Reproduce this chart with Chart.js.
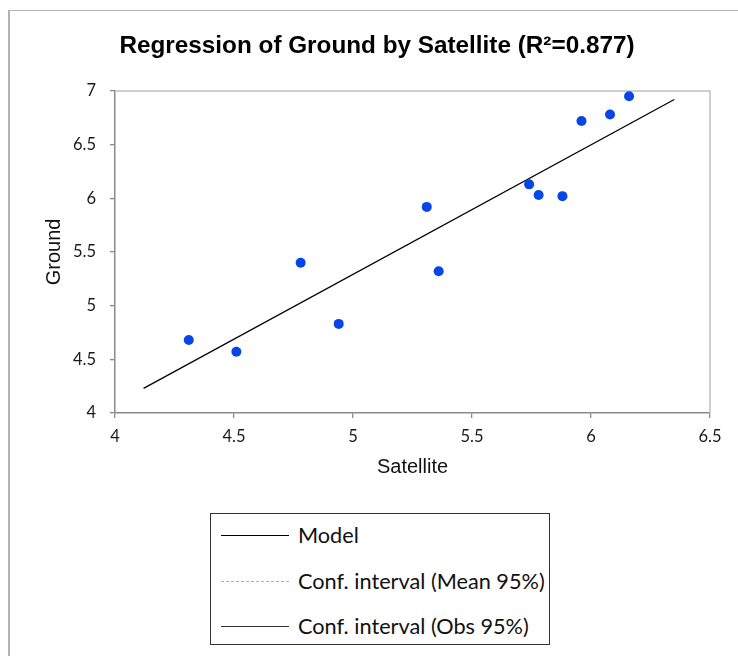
<!DOCTYPE html>
<html>
<head>
<meta charset="utf-8">
<script src="https://cdn.jsdelivr.net/npm/chart.js@4.4.1/dist/chart.umd.min.js"></script>
<style>
  body { margin: 0; background: #fff; }
  #wrap { position: relative; width: 738px; height: 656px; overflow: hidden; }
  #frame { position: absolute; left: 8px; top: 10px; width: 760px; height: 700px;
    border-left: 2px solid #b4b4b4; border-top: 1px solid #b4b4b4; }
  #chart { position: absolute; left: 0; top: 0; }
  #legend { position: absolute; left: 210px; top: 513px; width: 338px; height: 130px;
    border: 1px solid #333; background: #fff; font-family: Lato, sans-serif; font-size: 21.7px; color: #111; }
  #legend .row { position: absolute; left: 0; width: 100%; height: 0; }
  #legend .sample { position: absolute; left: 10px; width: 68px; top: 0; }
  #legend .txt { position: absolute; left: 87px; top: -13px; white-space: nowrap; line-height: 26px; }
</style>
</head>
<body>
<div id="wrap">
  <div id="frame"></div>
  <canvas id="chart" width="738" height="656"></canvas>
  <div id="legend"></div>
</div>
<script>
// observations
const satellite = [4.31, 4.51, 4.78, 4.94, 5.31, 5.36, 5.74, 5.78, 5.88, 5.96, 6.08, 6.16];
const ground = [4.68, 4.57, 5.40, 4.83, 5.92, 5.32, 6.13, 6.03, 6.02, 6.72, 6.78, 6.95];

// fitted model line (ends)
const modelX = [4.12, 6.35];
const modelY = [4.23, 6.92];

const xTicks = [4, 4.5, 5, 5.5, 6, 6.5];
const yTicks = [4, 4.5, 5, 5.5, 6, 6.5, 7];

const legendLabels = ["Model", "Conf. interval (Mean 95%)", "Conf. interval (Obs 95%)"];

const axisGray = "#8a8a8a";
const tickFont = { family: "Lato", size: 16.5 };
const titleFont = { family: "Liberation Sans", size: 20 };

const plotFrame = {
  id: "plotFrame",
  beforeDatasetsDraw(chart) {
    const { ctx, chartArea: a } = chart;
    ctx.save();
    ctx.strokeStyle = "#c0c0c0";
    ctx.lineWidth = 1.5;
    ctx.beginPath();
    ctx.moveTo(a.left, a.top);
    ctx.lineTo(a.right, a.top);
    ctx.lineTo(a.right, a.bottom);
    ctx.stroke();
    ctx.restore();
  },
};

const ctx = document.getElementById("chart").getContext("2d");
const chart = new Chart(ctx, {
  type: "scatter",
  data: {
    datasets: [
      {
        label: "Observations",
        data: satellite.map((x, i) => ({ x: x, y: ground[i] })),
        backgroundColor: "#0646e6",
        borderWidth: 0,
        pointRadius: 5,
        order: 0,
      },
      {
        label: legendLabels[0],
        data: modelX.map((x, i) => ({ x: x, y: modelY[i] })),
        showLine: true,
        borderColor: "#000",
        borderWidth: 1.3,
        pointRadius: 0,
        order: 1,
        inLegend: true,
      },
      {
        label: legendLabels[1],
        data: [],
        showLine: true,
        borderColor: "#b0b0b0",
        borderWidth: 1,
        borderDash: [2, 2],
        pointRadius: 0,
        inLegend: true,
      },
      {
        label: legendLabels[2],
        data: [],
        showLine: true,
        borderColor: "#333",
        borderWidth: 1,
        pointRadius: 0,
        inLegend: true,
      },
    ],
  },
  options: {
    responsive: false,
    animation: false,
    layout: { padding: { left: 44, right: 28, top: 0, bottom: 177 } },
    plugins: {
      legend: { display: false },
      tooltip: { enabled: false },
      title: {
        display: true,
        text: "Regression of Ground by Satellite (R²=0.877)",
        font: { family: "Liberation Sans", size: 24.3, weight: "bold" },
        color: "#000",
        padding: { top: 32, bottom: 29.8 },
      },
    },
    scales: {
      x: {
        type: "linear",
        min: 4,
        max: 6.5,
        afterBuildTicks: (s) => { s.ticks = xTicks.map((v) => ({ value: v })); },
        afterFit: (s) => { s.height = 66; },
        ticks: { font: tickFont, color: "#1a1a1a", padding: 9, callback: (v) => String(v) },
        grid: { drawOnChartArea: false, color: axisGray, tickLength: 5, lineWidth: 1.3 },
        border: { color: axisGray, width: 1.5 },
        title: { display: true, text: "Satellite", font: titleFont, color: "#111", padding: 0 },
      },
      y: {
        type: "linear",
        min: 4,
        max: 7,
        afterBuildTicks: (s) => { s.ticks = yTicks.map((v) => ({ value: v })); },
        afterFit: (s) => { s.width = 71; },
        ticks: { font: tickFont, color: "#1a1a1a", padding: 14, callback: (v) => String(v) },
        grid: { drawOnChartArea: false, color: axisGray, tickLength: 5, lineWidth: 1.3 },
        border: { color: axisGray, width: 1.5 },
        title: { display: true, text: "Ground", font: titleFont, color: "#111", padding: { top: -2, bottom: 0 } },
      },
    },
  },
  plugins: [plotFrame],
});

// boxed legend under the chart, one entry per row
const legendEl = document.getElementById("legend");
chart.data.datasets.filter((d) => d.inLegend).forEach((d, i) => {
  const row = document.createElement("div");
  row.className = "row";
  row.style.top = 21 + i * 45.5 + "px";
  const sample = document.createElement("div");
  sample.className = "sample";
  sample.style.borderTop = d.borderWidth + "px " + (d.borderDash ? "dashed " : "solid ") + d.borderColor;
  const txt = document.createElement("div");
  txt.className = "txt";
  txt.textContent = d.label;
  row.appendChild(sample);
  row.appendChild(txt);
  legendEl.appendChild(row);
});
</script>
</body>
</html>
